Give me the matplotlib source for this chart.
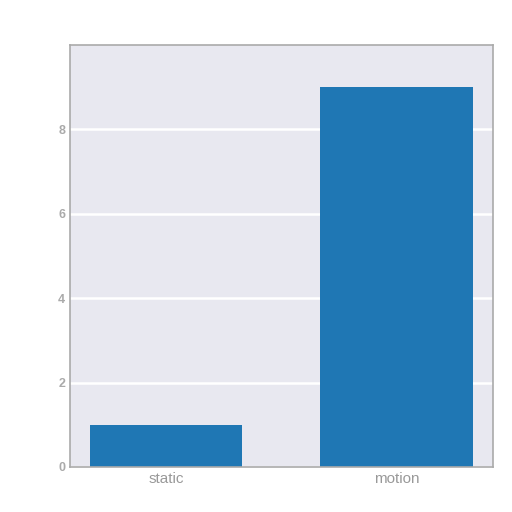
import matplotlib
matplotlib.use('Agg')
import matplotlib.pyplot as plt

categories = ['static', 'motion']
values = [1, 9]
yticks = [0, 2, 4, 6, 8]

plt.style.use('seaborn-v0_8-darkgrid')
fig = plt.figure(figsize=(5.12, 5.12), dpi=100)
ax = fig.add_axes([0.137, 0.088, 0.826, 0.824])

ax.bar(range(len(categories)), values, width=0.66, color='#1f77b4', zorder=2)
ax.set_xticks(range(len(categories)))
ax.set_xticklabels(categories, color='#999999', fontsize=11)
ax.set_yticks(yticks)
ax.set_yticklabels([str(t) for t in yticks], color='#aaaaaa', fontsize=9, fontweight='bold')
ax.set_xlim(-0.415, 1.418)
ax.set_ylim(0, 10.0)
ax.grid(axis='x', visible=False)
ax.grid(axis='y', color='white', linewidth=1.8)
ax.set_facecolor('#e8e8f0')
for s in ax.spines.values():
    s.set_visible(True)
    s.set_color('#aaaaaa')
    s.set_linewidth(1.2)

fig.savefig('out.png', dpi=100)
